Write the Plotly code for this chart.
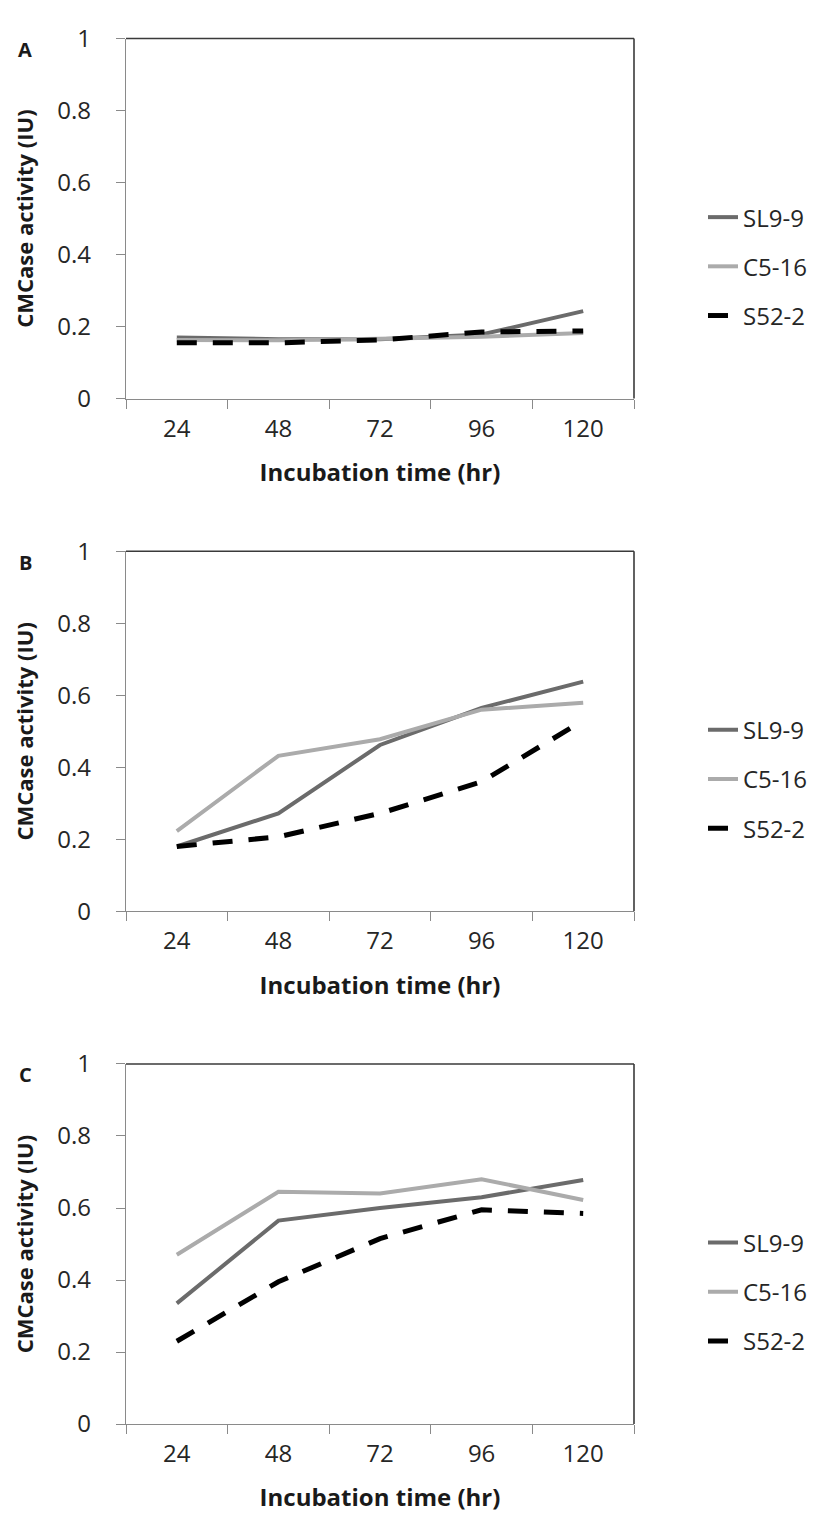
import plotly.graph_objects as go

W, H = 816, 1532

categories = ["24", "48", "72", "96", "120"]
series_names = ["SL9-9", "C5-16", "S52-2"]
panel_labels = ["A", "B", "C"]

# Panel A
a_sl9_9 = [0.170, 0.165, 0.165, 0.178, 0.243]
a_c5_16 = [0.163, 0.162, 0.166, 0.172, 0.182]
a_s52_2 = [0.155, 0.155, 0.163, 0.185, 0.188]
# Panel B
b_sl9_9 = [0.180, 0.272, 0.462, 0.565, 0.638]
b_c5_16 = [0.223, 0.432, 0.478, 0.560, 0.579]
b_s52_2 = [0.180, 0.207, 0.272, 0.360, 0.530]
# Panel C
c_sl9_9 = [0.335, 0.565, 0.600, 0.630, 0.678]
c_c5_16 = [0.470, 0.645, 0.640, 0.680, 0.622]
c_s52_2 = [0.230, 0.395, 0.515, 0.595, 0.585]

panels = [
    [a_sl9_9, a_c5_16, a_s52_2],
    [b_sl9_9, b_c5_16, b_s52_2],
    [c_sl9_9, c_c5_16, c_s52_2],
]

y_ticks = [0, 0.2, 0.4, 0.6, 0.8, 1]
y_ticktext = ["0", "0.2", "0.4", "0.6", "0.8", "1"]
x_title = "Incubation time (hr)"
y_title = "CMCase activity (IU)"

styles = [
    dict(color="#6b6b6b", width=4),
    dict(color="#ababab", width=4),
    dict(color="#000000", width=5, dash="20px,16px"),
]

FONT = "Open Sans"
TXT = "#262626"
AX = "#8a8a8a"
BORDER = "#3a3a3a"

def py(p):
    return 1 - p / H

left, right = 126, 634
tops = [21, 545, 1069]
ph = 368
leg_centers = [254, 778, 1302]

fig = go.Figure()
layout = dict(
    width=W, height=H,
    margin=dict(l=0, r=0, t=0, b=0),
    paper_bgcolor="white", plot_bgcolor="white",
    font=dict(family=FONT, color=TXT, size=24),
    showlegend=True,
)
annotations = []
shapes = []

for i, data in enumerate(panels):
    sfx = "" if i == 0 else str(i + 1)
    xa, ya = "x" + sfx, "y" + sfx
    leg = "legend" if i == 0 else "legend" + str(i + 1)
    for j, name in enumerate(series_names):
        fig.add_trace(go.Scatter(
            x=categories, y=data[j], mode="lines", name=name,
            line=styles[j], xaxis=xa, yaxis=ya, legend=leg,
            legendgroup=f"{i}-{j}",
        ))
    top = tops[i]
    bot = top + ph
    layout["xaxis" + sfx] = dict(
        domain=[left / W, right / W], anchor=ya, type="category",
        range=[-0.5, 4.5], tickson="boundaries", ticks="outside",
        ticklen=9, tickcolor=AX, tickwidth=1.3, showline=True,
        linecolor=AX, linewidth=1.3, showgrid=False, zeroline=False,
        tickfont=dict(size=24, color=TXT), ticklabelstandoff=8,
        title=dict(text="<b>" + x_title + "</b>", font=dict(size=24, color="#1a1a1a"), standoff=21),
        fixedrange=True,
    )
    layout["yaxis" + sfx] = dict(
        domain=[py(bot), py(top)], anchor=xa, range=[0, 1],
        tickvals=y_ticks, ticktext=y_ticktext, ticks="outside",
        ticklen=9, tickcolor=AX, tickwidth=1.3, showline=True,
        linecolor=AX, linewidth=1.3, showgrid=False, zeroline=False,
        tickfont=dict(size=24, color=TXT), ticklabelstandoff=20,
        title=dict(text="<b>" + y_title + "</b>", font=dict(size=22, color="#1a1a1a"), standoff=17),
        fixedrange=True,
    )
    layout[leg] = dict(
        x=703 / W, xanchor="left", y=py(leg_centers[i]), yanchor="middle",
        font=dict(size=24, color=TXT), tracegroupgap=15,
        traceorder="grouped", bgcolor="rgba(0,0,0,0)", borderwidth=0,
    )
    shapes.append(dict(type="line", xref=xa + " domain", yref=ya + " domain",
                       x0=0, x1=1, y0=1, y1=1, line=dict(color=BORDER, width=1.6)))
    shapes.append(dict(type="line", xref=xa + " domain", yref=ya + " domain",
                       x0=1, x1=1, y0=0, y1=1, line=dict(color=BORDER, width=1.6)))
    annotations.append(dict(text="<b>" + panel_labels[i] + "</b>", xref="paper", yref="paper",
                            x=25 / W, y=py(top + 11), showarrow=False,
                            font=dict(size=20, color="#1a1a1a"), xanchor="center", yanchor="middle"))

layout["annotations"] = annotations
layout["shapes"] = shapes
fig.update_layout(**layout)
fig.write_html("out.html")
